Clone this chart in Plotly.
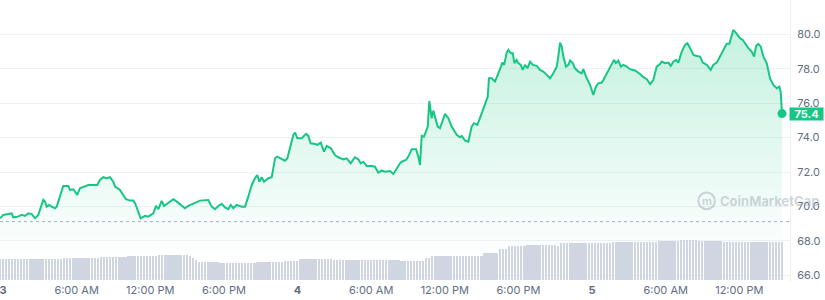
import numpy as np
import pandas as pd
import plotly.graph_objects as go

BASE_DAY = "2023-07-03"

# hours since day 3 00:00
PRICE_HOURS = [
    -0.24, 0.02, 0.43, 0.71, 0.84, 1.22, 1.52, 1.79, 2.06, 2.34, 2.61, 2.88,
    3.28, 3.42, 3.56, 3.77, 3.97, 4.24, 4.38, 4.64, 4.91, 5.32, 5.46, 5.73,
    6.05, 6.27, 6.68, 6.95, 7.36, 7.68, 7.90, 8.17, 8.45, 8.72, 8.99, 9.13,
    9.53, 9.80, 10.02, 10.35, 10.62, 10.76, 11.03, 11.22, 11.57, 11.84, 12.25, 12.47,
    12.66, 12.93, 13.12, 13.47, 13.88, 14.16, 14.56, 14.83, 15.10, 15.51, 16.05,
    16.73, 17.01, 17.28, 17.54, 17.82, 18.09, 18.36, 18.56, 18.77, 19.04, 19.45, 19.72,
    19.99, 20.27, 20.53, 20.72, 20.89, 21.08, 21.27, 21.62, 21.90,
    22.17, 22.35, 22.71, 22.98, 23.17, 23.39, 23.66, 23.80, 23.98, 24.34, 24.69, 24.88,
    25.07, 25.43, 25.61, 25.89, 26.16, 26.38, 26.71, 27.05, 27.32, 27.73, 28.01, 28.33,
    28.68, 28.95, 29.15, 29.36, 29.64, 30.05, 30.31, 30.58, 30.86, 31.13, 31.54, 31.81, 32.08, 32.35,
    32.49, 32.84, 33.03, 33.31, 33.66, 33.84, 33.98, 34.12, 34.31, 34.47, 34.61,
    34.74, 34.93, 35.07, 35.26, 35.42, 35.61, 35.80, 36.02, 36.29, 36.56, 36.97,
    37.24, 37.38, 37.65, 37.92, 38.19, 38.38, 38.65, 38.81, 39.01, 39.28, 39.50,
    39.60, 39.82, 40.09, 40.28, 40.50, 40.69, 40.83, 41.05, 41.18, 41.37, 41.54,
    41.67, 41.86, 41.99, 42.19, 42.35, 42.54, 42.73, 42.95, 43.17, 43.49, 43.76,
    44.03, 44.31, 44.58, 44.84, 45.12, 45.25, 45.39, 45.53, 45.66, 45.88, 46.07,
    46.21, 46.43, 46.61, 46.88, 47.16, 47.29, 47.51, 47.84, 48.10, 48.32, 48.51,
    48.79, 48.92, 49.20, 49.46, 49.79, 49.95, 50.14, 50.34, 50.55, 50.83, 51.09,
    51.50, 51.91, 52.18, 52.46, 52.73, 52.99, 53.27, 53.54, 53.68, 53.95, 54.22,
    54.41, 54.63, 54.84, 55.03, 55.31, 55.58, 55.77, 55.99, 56.26, 56.53, 56.80,
    57.02, 57.35, 57.67, 57.88, 58.16, 58.43, 58.70, 58.97, 59.19, 59.38, 59.51,
    59.71, 59.84, 60.06, 60.28, 60.47, 60.74, 61.01, 61.20, 61.37, 61.55, 61.75,
    61.96, 62.23, 62.50, 62.77, 63.05, 63.26, 63.37, 63.48,
]

PRICE_VALUES = [
    69.31, 69.51, 69.56, 69.60, 69.37, 69.41, 69.51, 69.45, 69.60, 69.56, 69.31, 69.51,
    70.38, 70.28, 69.99, 70.09, 69.99, 69.90, 69.99, 70.57, 71.19, 71.19, 70.96, 71.00,
    70.67, 71.06, 71.15, 71.25, 71.25, 71.25, 71.54, 71.70, 71.64, 71.70, 71.44, 71.15,
    70.96, 70.67, 70.42, 70.34, 70.34, 70.19, 69.60, 69.31, 69.45, 69.41, 69.60, 70.03,
    69.84, 70.32, 70.03, 70.19, 70.42, 70.28, 70.03, 69.90, 70.03, 70.15, 70.34,
    70.38, 69.99, 69.84, 70.03, 70.15, 69.95, 69.84, 70.09, 69.90, 70.09, 69.99, 69.99,
    70.57, 71.25, 71.64, 71.83, 71.44, 71.70, 71.44, 71.64, 71.70,
    72.80, 72.90, 72.74, 72.66, 72.80, 73.48, 74.16, 74.29, 73.97, 73.97, 74.22, 74.10,
    73.67, 73.63, 73.58, 73.71, 73.19, 73.52, 73.38, 72.99, 72.86, 72.74, 72.80, 72.51,
    72.86, 72.74, 72.51, 72.60, 72.35, 72.35, 72.31, 71.97, 72.08, 72.02, 72.06, 71.89, 72.22, 72.51,
    72.60, 72.70, 72.90, 73.33, 73.33, 72.90, 72.41, 74.10, 74.06, 74.45, 74.64,
    76.13, 75.13, 75.57, 75.03, 74.64, 74.55, 74.93, 75.38, 75.13, 74.64, 74.16,
    74.02, 74.10, 73.83, 73.77, 74.64, 74.84, 74.74, 75.03, 75.45, 76.00, 76.38,
    77.45, 77.45, 77.26, 77.55, 77.98, 78.36, 78.23, 78.94, 79.10, 78.91, 78.91,
    78.33, 78.52, 78.33, 78.23, 77.94, 78.23, 78.03, 78.42, 78.23, 78.17, 77.94,
    77.84, 77.65, 77.45, 77.74, 78.13, 78.71, 79.52, 79.29, 78.71, 78.13, 78.23,
    78.48, 78.33, 78.03, 77.84, 77.74, 77.98, 77.55, 77.06, 76.48, 76.97, 77.16,
    77.20, 77.35, 77.74, 78.13, 78.52, 78.33, 78.48, 78.13, 78.23, 78.13, 77.98,
    77.90, 77.70, 77.51, 77.40, 77.12, 77.35, 78.13, 78.28, 78.42, 78.33, 78.36,
    78.17, 78.42, 78.52, 78.36, 79.00, 79.39, 79.49, 79.20, 78.81, 78.75, 78.71,
    78.36, 78.23, 77.94, 78.23, 78.36, 78.71, 79.10, 79.45, 79.45, 79.87, 80.26,
    80.10, 79.97, 79.78, 79.68, 79.45, 79.20, 79.00, 78.71, 79.33, 79.45, 79.29,
    78.71, 78.33, 77.45, 77.06, 76.87, 76.97, 76.67, 75.40,
]

OPEN_PRICE = 69.12
LAST_PRICE_TEXT = "75.4"

# volume (arbitrary $M units), read as runs of 15-minute bars
VOL_LEVELS = [414, 426, 446, 454, 474, 500, 480, 440, 400, 366, 346, 334, 360, 380,
              414, 400, 386, 434, 480, 546, 634, 686, 714, 700, 680, 754, 746, 766,
              786, 814, 786, 760]
VOL_COUNTS = [15, 6, 12, 9, 10, 10, 1, 1, 1, 7, 8, 4, 9, 5,
              11, 22, 8, 2, 17, 5, 3, 6, 7, 3, 1, 4, 13, 15,
              7, 6, 8, 20]
VOL_START_HOURS = -0.25
VOL_STEP_MIN = 15

X_TICK_HOURS = [0, 6, 12, 18, 24, 30, 36, 42, 48, 54, 60]
X_TICK_TEXT = ["<b>3</b>", "6:00 AM", "12:00 PM", "6:00 PM", "<b>4</b>", "6:00 AM",
               "12:00 PM", "6:00 PM", "<b>5</b>", "6:00 AM", "12:00 PM"]
Y_TICKS = [66, 68, 70, 72, 74, 76, 78, 80]

GREEN = "#16c784"
LABEL_COLOR = "#616e85"
GRID = "#eff2f5"

n = min(len(PRICE_HOURS), len(PRICE_VALUES))
base = pd.Timestamp(BASE_DAY)
t_price = base + pd.to_timedelta(np.array(PRICE_HOURS[:n]), unit="h")
p_vals = PRICE_VALUES[:n]

vol = np.repeat(VOL_LEVELS, VOL_COUNTS)
t_vol = base + pd.to_timedelta(VOL_START_HOURS, unit="h") + pd.to_timedelta(np.arange(len(vol)) * VOL_STEP_MIN, unit="m")
tick_vals = base + pd.to_timedelta(X_TICK_HOURS, unit="h")

fig = go.Figure()

fig.add_trace(go.Bar(
    x=t_vol, y=vol, yaxis="y2",
    marker=dict(color="#cfd6e2", line=dict(width=0)),
    width=VOL_STEP_MIN * 60 * 1000 * 0.62,
    hoverinfo="skip", showlegend=False,
))

fig.add_trace(go.Scatter(
    x=t_price, y=p_vals, mode="lines",
    line=dict(color=GREEN, width=2),
    fill="tozeroy",
    fillgradient=dict(type="vertical", start=67.0, stop=80.3,
                      colorscale=[[0, "rgba(22,199,132,0)"], [1, "rgba(22,199,132,0.25)"]]),
    hoverinfo="skip", showlegend=False,
))

fig.add_trace(go.Scatter(
    x=[t_price[-1]], y=[p_vals[-1]], mode="markers",
    marker=dict(color=GREEN, size=9),
    hoverinfo="skip", showlegend=False,
))

fig.add_shape(type="line", xref="paper", x0=0, x1=1, yref="y", y0=OPEN_PRICE, y1=OPEN_PRICE,
              line=dict(color="#a6b0c3", width=1, dash="dot"))

# watermark
wm = "rgba(150,160,176,0.45)"
fig.add_shape(type="circle", xref="paper", yref="paper",
              x0=0.884, x1=0.905, y0=0.258, y1=0.317,
              line=dict(color=wm, width=2))
fig.add_annotation(xref="paper", yref="paper", x=0.909, y=0.287, xanchor="left", yanchor="middle",
                   text="<b>CoinMarketCap</b>", showarrow=False,
                   font=dict(family="Inter", size=13, color=wm))
fig.add_annotation(xref="paper", yref="paper", x=0.8945, y=0.287, xanchor="center", yanchor="middle",
                   text="<b>m</b>", showarrow=False,
                   font=dict(family="Inter", size=11, color=wm))

fig.add_annotation(xref="paper", x=1, xanchor="left", yref="y", y=p_vals[-1], yanchor="middle",
                   text="<b>" + LAST_PRICE_TEXT + "</b>", showarrow=False,
                   bgcolor=GREEN, font=dict(family="Inter", size=11, color="white"),
                   width=31, height=10, borderpad=1, xshift=-1)

fig.update_layout(
    width=825, height=300, autosize=False,
    margin=dict(l=0, r=35, t=0, b=18),
    paper_bgcolor="white", plot_bgcolor="white",
    font=dict(family="Inter", size=11, color=LABEL_COLOR),
    bargap=0,
    xaxis=dict(
        type="date",
        range=[base - pd.Timedelta(hours=0.244), base + pd.Timedelta(hours=64.13)],
        tickvals=tick_vals, ticktext=X_TICK_TEXT,
        showgrid=False, zeroline=False, showline=False, ticks="",
        ticklabeloverflow="allow",
        tickfont=dict(size=11, color=LABEL_COLOR),
    ),
    yaxis=dict(
        side="right", range=[65.61, 82.0], tickvals=Y_TICKS, tickformat=".1f",
        showgrid=True, gridcolor=GRID, gridwidth=1, zeroline=False,
        showline=True, linecolor=GRID, ticks="", ticklabelstandoff=4,
        tickfont=dict(size=11, color=LABEL_COLOR),
    ),
    yaxis2=dict(overlaying="y", range=[-40, 5640], visible=False, showgrid=False),
    hovermode=False,
)

fig.write_html("out.html")
